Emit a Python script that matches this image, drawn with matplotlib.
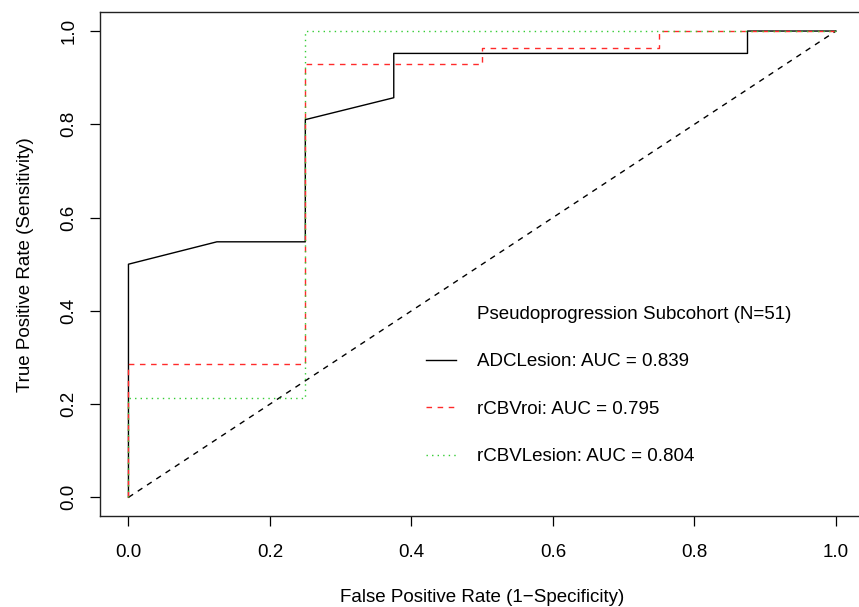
import matplotlib
matplotlib.use("Agg")
import matplotlib.pyplot as plt
from matplotlib.lines import Line2D

plt.rcParams['font.family'] = ['Liberation Sans', 'DejaVu Sans']

# Data (ROC step curves)
adc_fpr = [0, 0, 0.125, 0.25, 0.25, 0.375, 0.375, 0.875, 0.875, 1.0]
adc_tpr = [0, 0.5, 0.548, 0.548, 0.810, 0.857, 0.952, 0.952, 1.0, 1.0]

roi_fpr = [0, 0, 0.25, 0.25, 0.5, 0.5, 0.75, 0.75, 1.0]
roi_tpr = [0, 0.286, 0.286, 0.929, 0.929, 0.964, 0.964, 1.0, 1.0]

les_fpr = [0, 0, 0.25, 0.25, 1.0]
les_tpr = [0, 0.214, 0.214, 1.0, 1.0]

labels = ["ADCLesion: AUC = 0.839", "rCBVroi: AUC = 0.795", "rCBVLesion: AUC = 0.804"]
legend_title = "Pseudoprogression Subcohort (N=51)"
ticks = [0.0, 0.2, 0.4, 0.6, 0.8, 1.0]
tick_labels = ["0.0", "0.2", "0.4", "0.6", "0.8", "1.0"]

FS = 13.5

fig = plt.figure(figsize=(8.59, 6.07), dpi=100)
ax = fig.add_axes([0.1166, 0.1499, 0.8895, 0.8297])

ax.plot([0, 1], [0, 1], color='black', lw=1.0, dashes=(4, 4))
l1, = ax.plot(adc_fpr, adc_tpr, color='black', lw=1.0)
l2, = ax.plot(roi_fpr, roi_tpr, color='#FF2A2A', lw=1.0, dashes=(4, 4))
l3, = ax.plot(les_fpr, les_tpr, color='#33CC33', lw=1.0, dashes=(1, 3))

ax.set_xlim(-0.04, 1.04)
ax.set_ylim(-0.04, 1.04)
ax.set_xticks(ticks)
ax.set_xticklabels(tick_labels)
ax.set_yticks(ticks)
ax.set_yticklabels(tick_labels, rotation=90, va='center')
ax.tick_params(direction='out', length=7.5, width=0.9, labelsize=FS, pad=12.5)
ax.tick_params(axis='y', pad=9)
for s in ax.spines.values():
    s.set_linewidth(1.0)
    s.set_color('#222222')

ax.set_xlabel("False Positive Rate (1\u2212Specificity)", fontsize=FS, labelpad=20)
ax.set_ylabel("True Positive Rate (Sensitivity)", fontsize=FS, labelpad=19)

blank = Line2D([], [], color='none')
leg = ax.legend([blank, l1, l2, l3], [legend_title] + labels,
                loc='upper left', bbox_to_anchor=(0.417, 0.433),
                frameon=False, fontsize=FS, handlelength=1.6,
                handletextpad=1.12, labelspacing=1.62, borderaxespad=0)

fig.savefig("out.png", dpi=100)
